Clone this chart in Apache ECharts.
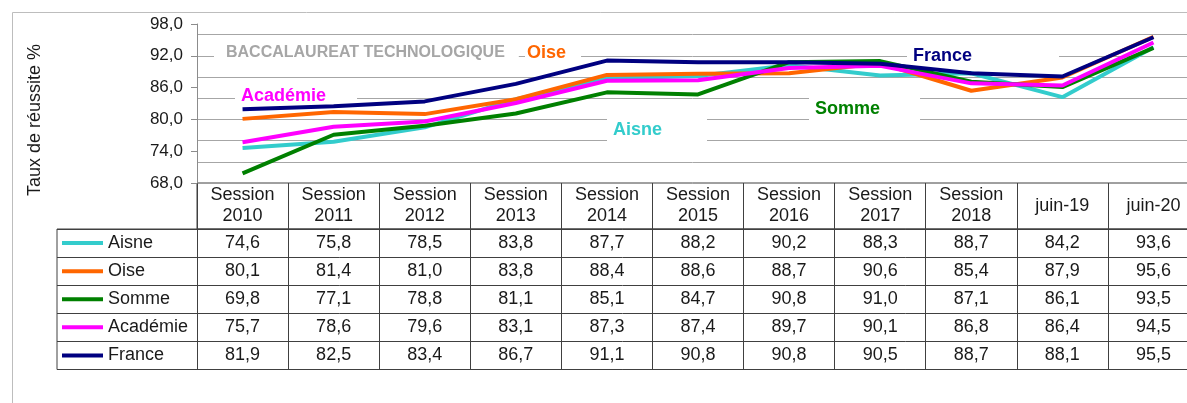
<!DOCTYPE html>
<html><head><meta charset="utf-8">
<script src="https://cdn.jsdelivr.net/npm/echarts@6/dist/echarts.min.js"></script>
<style>html,body{margin:0;padding:0;background:#fff}#c{width:1187px;height:403px}</style>
</head><body><div id="c"></div>
<script>
// ---- data ----
const categories = ['Session 2010','Session 2011','Session 2012','Session 2013','Session 2014','Session 2015','Session 2016','Session 2017','Session 2018','juin-19','juin-20'];
const seriesNames = ['Aisne','Oise','Somme','Académie','France'];
const aisne    = [74.6,75.8,78.5,83.8,87.7,88.2,90.2,88.3,88.7,84.2,93.6];
const oise     = [80.1,81.4,81.0,83.8,88.4,88.6,88.7,90.6,85.4,87.9,95.6];
const somme    = [69.8,77.1,78.8,81.1,85.1,84.7,90.8,91.0,87.1,86.1,93.5];
const academie = [75.7,78.6,79.6,83.1,87.3,87.4,89.7,90.1,86.8,86.4,94.5];
const france   = [81.9,82.5,83.4,86.7,91.1,90.8,90.8,90.5,88.7,88.1,95.5];
const yTicks = [68,74,80,86,92,98];
const chartTitle = 'BACCALAUREAT TECHNOLOGIQUE';
const yTitle = 'Taux de réussite %';

// ---- styling ----
const seriesData = [aisne, oise, somme, academie, france];
const colors = ['#33cccc','#ff6600','#008000','#ff00ff','#000080'];
const FONT = '"Liberation Sans", Arial, Helvetica, sans-serif';
const TXT = '#1a1a1a', BORDER = '#404040', GRID = '#a6a6a6';
const fmt = v => Number(v).toFixed(1).replace('.', ',');

const L = 197, W = 1002;
const rowTop0 = 229, rowH = 28.1;
const grids = [], xAxes = [], yAxes = [];
const baseGrid = {outerBoundsMode:'none', containLabel:false};

// grid 0 : chart
grids.push(Object.assign({left:L, top:24, width:W, height:159}, baseGrid));
xAxes.push({gridIndex:0, type:'category', data:categories, boundaryGap:true,
  axisLine:{show:false}, axisTick:{show:false}, axisLabel:{show:false}, splitLine:{show:false}});
yAxes.push({gridIndex:0, type:'value', min:yTicks[0], max:yTicks[yTicks.length-1], interval:6,
  axisLine:{show:true, lineStyle:{color:'#8c8c8c', width:1}},
  axisTick:{show:true, length:6, customValues:yTicks, lineStyle:{color:'#8c8c8c'}},
  axisLabel:{formatter:fmt, customValues:yTicks, margin:14, color:TXT, fontSize:17, fontFamily:FONT},
  splitLine:{show:false}});
yAxes.push({gridIndex:0, type:'value', min:68, max:98, interval:4, position:'right',
  axisLine:{show:false}, axisTick:{show:false}, axisLabel:{show:false},
  splitLine:{show:true, showMinLine:false, showMaxLine:false, lineStyle:{color:GRID, width:1}}});

// grid 1 : header row
grids.push(Object.assign({left:L, top:183, width:W, height:46, show:true, borderColor:BORDER, borderWidth:1, backgroundColor:'rgba(0,0,0,0)'}, baseGrid));
xAxes.push({gridIndex:1, type:'category', data:categories, position:'top', boundaryGap:true,
  axisLine:{show:false}, axisTick:{show:false},
  axisLabel:{interval:0, inside:true, margin:23, verticalAlign:'middle', align:'center', lineHeight:21,
    fontSize:18, color:TXT, fontFamily:FONT, formatter:v => v.replace(' ', '\n')},
  splitLine:{show:true, lineStyle:{color:BORDER, width:1}}});
yAxes.push({gridIndex:1, type:'value', show:false});

// grid 2 : table body frame + row separators
grids.push(Object.assign({left:57, top:rowTop0, width:1142, height:rowH*5, show:true, borderColor:BORDER, borderWidth:1, backgroundColor:'rgba(0,0,0,0)'}, baseGrid));
xAxes.push({gridIndex:2, type:'value', show:false, min:0, max:1});
yAxes.push({gridIndex:2, type:'value', min:0, max:seriesNames.length, interval:1,
  axisLine:{show:false}, axisTick:{show:false}, axisLabel:{show:false},
  splitLine:{show:true, lineStyle:{color:BORDER, width:1}}});

// grids 3.. : value cells per row
seriesNames.forEach((n, r) => {
  const gi = grids.length;
  grids.push(Object.assign({left:L, top:rowTop0 + r*rowH, width:W, height:rowH}, baseGrid));
  xAxes.push({gridIndex:gi, type:'category', data:categories, position:'top', boundaryGap:true,
    axisLine:{show:false}, axisTick:{show:false},
    axisLabel:{interval:0, inside:true, margin:rowH/2, verticalAlign:'middle', align:'center',
      fontSize:18, color:TXT, fontFamily:FONT, formatter:(v, idx) => fmt(seriesData[r][idx])},
    splitLine:{show:true, lineStyle:{color:BORDER, width:1}}});
  yAxes.push({gridIndex:gi, type:'value', show:false});
});

const series = seriesNames.map((n, i) => ({
  name:n, type:'line', xAxisIndex:0, yAxisIndex:0, data:seriesData[i],
  showSymbol:false, symbol:'none', z:2+i,
  lineStyle:{width:4, color:colors[i]}, itemStyle:{color:colors[i]}
}));

function lbl(text, x, y, color, size, padding) {
  return {type:'text', x:x, y:y, z:1,
    style:{text:text, fill:color, font:'bold '+size+'px '+FONT, align:'left', verticalAlign:'middle',
      backgroundColor:'#ffffff', padding:padding}};
}

const option = {
  animation:false,
  backgroundColor:'#ffffff',
  textStyle:{fontFamily:FONT},
  grid:grids, xAxis:xAxes, yAxis:yAxes, series:series,
  legend:{orient:'vertical', left:62, top:rowTop0 + rowH/2 - 10, padding:0,
    itemWidth:41, itemHeight:4, itemGap:rowH - 20, icon:'rect', selectedMode:false,
    textStyle:{fontSize:18, lineHeight:20, color:TXT, fontFamily:FONT}, data:seriesNames},
  graphic:[
    {type:'rect', z:0, shape:{x:12.5, y:12.5, width:1300, height:500}, style:{fill:'none', stroke:'#bdbdbd', lineWidth:1}},
    {type:'text', x:35, y:120, rotation:Math.PI/2, z:1,
      style:{text:yTitle, fill:TXT, font:'18px '+FONT, align:'center', verticalAlign:'middle'}},
    lbl(chartTitle, 214, 53, '#a6a6a6', 16, [4,14,4,12]),
    lbl('Oise', 525, 53, colors[1], 18, [3,15,3,2]),
    lbl('Académie', 235, 96, colors[3], 18, [3,31,0,6]),
    lbl('France', 907, 56, colors[4], 18, [2,87,0,6]),
    lbl('Somme', 809, 109, colors[2], 18, [6,40,6,6]),
    lbl('Aisne', 607, 130, colors[0], 18, [6,45,6,6])
  ]
};
const chart = echarts.init(document.getElementById('c'), null, {renderer:'canvas'});
chart.setOption(option);
</script></body></html>
